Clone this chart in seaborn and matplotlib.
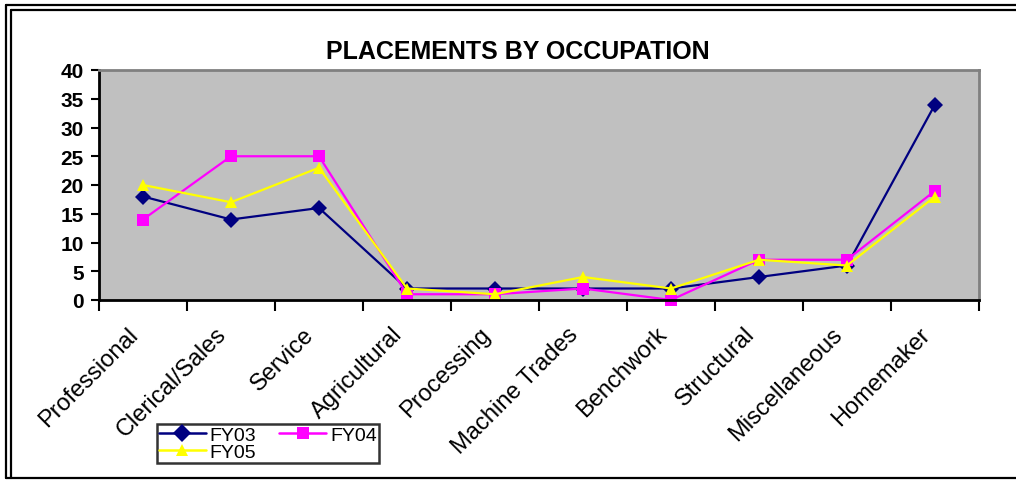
import pandas as pd
import matplotlib.pyplot as plt
import matplotlib.transforms as mtransforms
import seaborn as sns
from matplotlib.lines import Line2D

# Data
occupations = ['Professional', 'Clerical/Sales', 'Service', 'Agricultural', 'Processing',
               'Machine Trades', 'Benchwork', 'Structural', 'Miscellaneous', 'Homemaker']
fy03 = [18, 14, 16, 2, 2, 2, 2, 4, 6, 34]
fy04 = [14, 25, 25, 1, 1, 2, 0, 7, 7, 19]
fy05 = [20, 17, 23, 2, 1, 4, 2, 7, 6, 18]
years = ['FY03', 'FY04', 'FY05']
y_ticks = [0, 5, 10, 15, 20, 25, 30, 35, 40]

df = pd.DataFrame({
    'occupation': occupations * 3,
    'placements': fy03 + fy04 + fy05,
    'year': [y for y in years for _ in occupations],
})
df['pos'] = [i for _ in years for i in range(len(occupations))]

sns.set_theme(style='white')
plt.rcParams['font.family'] = ['Liberation Sans', 'DejaVu Sans']
plt.rcParams['text.color'] = 'black'
plt.rcParams['xtick.color'] = 'black'
plt.rcParams['ytick.color'] = 'black'

W, H = 1016, 481
fig = plt.figure(figsize=(W / 100, H / 100), dpi=100)
ax = fig.add_axes([99 / W, 1 - 301 / H, 880 / W, 230 / H])
ax.set_facecolor('#C0C0C0')

palette = {'FY03': '#000080', 'FY04': '#FF00FF', 'FY05': '#FFFF00'}
markers = {'FY03': 'D', 'FY04': 's', 'FY05': '^'}
sns.lineplot(data=df, x='pos', y='placements', hue='year', style='year',
             palette=palette, markers=markers, dashes=False, linewidth=1.6,
             markersize=8, markeredgewidth=0, ax=ax, legend=False, clip_on=False)

ax.set_xlim(-0.5, len(occupations) - 0.5)
ax.set_ylim(0, 40)
ax.set_xlabel('')
ax.set_ylabel('')

# y axis
ax.set_yticks(y_ticks)
ax.set_yticklabels([str(v) for v in y_ticks], fontsize=15, fontweight='bold')
ax.tick_params(axis='y', direction='out', length=6, width=1.5, color='black', pad=5,
               left=True, labelcolor='black')

# x axis: labels at category centres, tick marks at boundaries
ax.set_xticks(range(len(occupations)))
ax.set_xticklabels(occupations, fontsize=17, rotation=45, ha='right', va='center',
                   rotation_mode='anchor', color='black')
ax.tick_params(axis='x', which='major', length=0, pad=22)
shift = mtransforms.ScaledTranslation(-8 / 100, 0, fig.dpi_scale_trans)
for lbl in ax.get_xticklabels():
    lbl.set_transform(lbl.get_transform() + shift)
ax.set_xticks([i - 0.5 for i in range(len(occupations) + 1)], minor=True)
ax.tick_params(axis='x', which='minor', direction='out', length=8, width=1.5,
               color='black', bottom=True)

for side in ['left', 'bottom']:
    ax.spines[side].set_color('black')
    ax.spines[side].set_linewidth(2)
for side in ['top', 'right']:
    ax.spines[side].set_color('#808080')
    ax.spines[side].set_linewidth(2)

fig.text(518 / W, 1 - 52 / H, 'PLACEMENTS BY OCCUPATION', ha='center', va='center',
         fontsize=18, fontweight='bold', color='black')

# legend (column-major fill: FY03, FY05 in column 1, FY04 in column 2)
order = ['FY03', 'FY05', 'FY04']
handles = [Line2D([], [], color=palette[y], marker=markers[y], markersize=9,
                  markeredgewidth=0, linewidth=1.8) for y in order]
leg = fig.legend(handles, order, loc='upper left', bbox_to_anchor=(157 / W, 1 - 425 / H),
                 ncol=2, fontsize=14, frameon=True, fancybox=False, borderpad=0.1,
                 handlelength=2.4, handletextpad=0.2, columnspacing=1.2, labelspacing=0.0,
                 borderaxespad=0)
leg.get_frame().set_edgecolor('black')
leg.get_frame().set_linewidth(1.8)
for t in leg.get_texts():
    t.set_color('black')

# outer double frame
def fx(px):
    return px / W

def fy(py):
    return 1 - py / H

for off in [6, 11]:
    fig.add_artist(Line2D([fx(off), fx(off)], [fy(off), fy(479)], color='black', linewidth=1.6))
    fig.add_artist(Line2D([fx(off), 1], [fy(off), fy(off)], color='black', linewidth=1.6))
fig.add_artist(Line2D([fx(6), 1], [fy(479), fy(479)], color='black', linewidth=1.6))

fig.savefig('out.png', dpi=100)
